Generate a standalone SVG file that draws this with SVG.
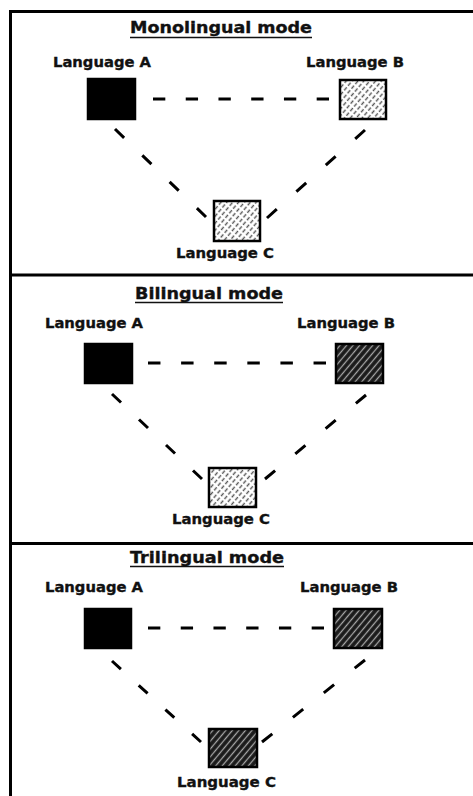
<svg xmlns="http://www.w3.org/2000/svg" width="473" height="796" viewBox="0 0 473 796">
  <style>
    .frame { stroke: #000; stroke-width: 3; fill: none; }
    .title { font-family: "DejaVu Sans", "Liberation Sans", sans-serif; font-weight: bold; font-size: 15px; fill: #111; stroke: #111; stroke-width: 0.35; }
    .label { font-family: "DejaVu Sans", "Liberation Sans", sans-serif; font-weight: bold; font-size: 14px; fill: #111; stroke: #111; stroke-width: 0.35; }
    .uline { stroke: #111; stroke-width: 1.6; }
    .link { stroke: #000; stroke-width: 3; fill: none; }
    .horiz { stroke-dasharray: 7 11.6; }
    .diag { stroke-dasharray: 10 20; }
    .box { stroke: #000; stroke-width: 2.5; }
    .solid { fill: #000; }
    .light { fill: url(#lightHatch); }
    .dark { fill: url(#darkHatch); }
  </style>
  <defs>
    <!-- light hatch: broken grey diagonals on white -->
    <pattern id="lightHatch" patternUnits="userSpaceOnUse" width="4.5" height="6" patternTransform="rotate(40)">
      <rect width="4.5" height="6" fill="#fff"/>
      <line x1="2.25" y1="0" x2="2.25" y2="6" stroke="#555" stroke-width="1.4" stroke-dasharray="4 2"/>
    </pattern>
    <!-- dark hatch: pale diagonals on near-black -->
    <pattern id="darkHatch" patternUnits="userSpaceOnUse" width="5" height="5" patternTransform="rotate(40)">
      <rect width="5" height="5" fill="#1a1a1a"/>
      <line x1="2.5" y1="0" x2="2.5" y2="5" stroke="#a8a8a8" stroke-width="1.3"/>
    </pattern>
  </defs>

  <rect width="473" height="796" fill="#fff"/>

  <!-- frame and panel separators -->
  <g id="frame">
    <line class="frame" x1="10.5" y1="11.5" x2="10.5" y2="796"/>
    <line class="frame" x1="9" y1="11.5" x2="473" y2="11.5"/>
    <line class="frame" x1="9" y1="275" x2="473" y2="275"/>
    <line class="frame" x1="9" y1="543.5" x2="473" y2="543.5"/>
  </g>

  <!-- panel titles -->
  <g id="title-mono">
    <text class="title" x="130" y="33" textLength="182" lengthAdjust="spacingAndGlyphs">Monolingual mode</text>
    <line class="uline" x1="130" y1="37.5" x2="312" y2="37.5"/>
  </g>
  <g id="title-bi">
    <text class="title" x="135" y="299" textLength="148" lengthAdjust="spacingAndGlyphs">Bilingual mode</text>
    <line class="uline" x1="135" y1="302.5" x2="283" y2="302.5"/>
  </g>
  <g id="title-tri">
    <text class="title" x="130" y="563" textLength="154" lengthAdjust="spacingAndGlyphs">Trilingual mode</text>
    <line class="uline" x1="130" y1="566.5" x2="284" y2="566.5"/>
  </g>

  <!-- connectors -->
  <g id="connectors">
    <line class="link horiz" pathLength="100" x1="153" y1="99" x2="329" y2="99"/>
    <line class="link diag" pathLength="100" x1="115" y1="129" x2="206" y2="217"/>
    <line class="link diag" pathLength="100" x1="365" y1="130" x2="267" y2="218"/>

    <line class="link horiz" pathLength="100" x1="148" y1="363" x2="326" y2="363"/>
    <line class="link diag" pathLength="100" x1="112" y1="394" x2="202" y2="479"/>
    <line class="link diag" pathLength="100" x1="366" y1="395" x2="265" y2="479"/>

    <line class="link horiz" pathLength="100" x1="148" y1="628" x2="324" y2="628"/>
    <line class="link diag" pathLength="100" x1="112" y1="661" x2="201" y2="742"/>
    <line class="link diag" pathLength="100" x1="365" y1="660" x2="262" y2="742"/>
  </g>

  <!-- Monolingual mode nodes -->
  <g id="mono-a">
    <text class="label" x="53" y="67" textLength="98" lengthAdjust="spacingAndGlyphs">Language A</text>
    <rect class="box solid" x="88" y="79" width="47" height="40"/>
  </g>
  <g id="mono-b">
    <text class="label" x="306" y="67" textLength="98" lengthAdjust="spacingAndGlyphs">Language B</text>
    <rect class="box light" x="340" y="80" width="46" height="39"/>
  </g>
  <g id="mono-c">
    <rect class="box light" x="214" y="201" width="46" height="40"/>
    <text class="label" x="176" y="258" textLength="98" lengthAdjust="spacingAndGlyphs">Language C</text>
  </g>

  <!-- Bilingual mode nodes -->
  <g id="bi-a">
    <text class="label" x="45" y="328" textLength="98" lengthAdjust="spacingAndGlyphs">Language A</text>
    <rect class="box solid" x="85" y="344" width="47" height="39"/>
  </g>
  <g id="bi-b">
    <text class="label" x="297" y="328" textLength="98" lengthAdjust="spacingAndGlyphs">Language B</text>
    <rect class="box dark" x="336" y="344" width="47" height="39"/>
  </g>
  <g id="bi-c">
    <rect class="box light" x="209" y="468" width="47" height="39"/>
    <text class="label" x="172" y="524" textLength="98" lengthAdjust="spacingAndGlyphs">Language C</text>
  </g>

  <!-- Trilingual mode nodes -->
  <g id="tri-a">
    <text class="label" x="45" y="592" textLength="98" lengthAdjust="spacingAndGlyphs">Language A</text>
    <rect class="box solid" x="85" y="609" width="46" height="39"/>
  </g>
  <g id="tri-b">
    <text class="label" x="300" y="592" textLength="98" lengthAdjust="spacingAndGlyphs">Language B</text>
    <rect class="box dark" x="334" y="609" width="48" height="39"/>
  </g>
  <g id="tri-c">
    <rect class="box dark" x="209" y="729" width="48" height="38"/>
    <text class="label" x="177" y="787" textLength="99" lengthAdjust="spacingAndGlyphs">Language C</text>
  </g>
</svg>
